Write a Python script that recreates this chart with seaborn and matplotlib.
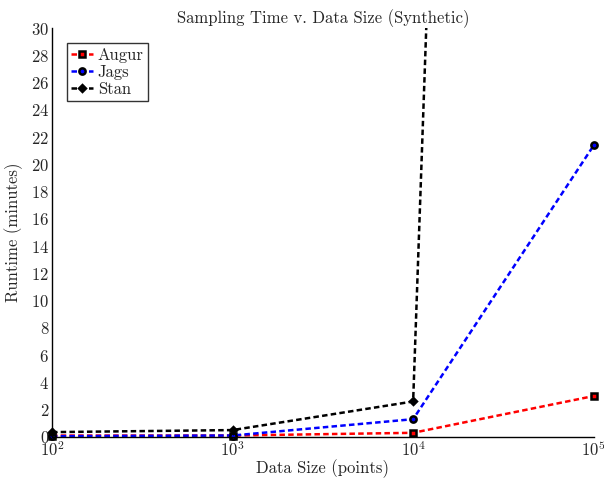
import matplotlib
matplotlib.use("Agg")
import matplotlib.pyplot as plt
import seaborn as sns
from matplotlib.transforms import Bbox, TransformedBbox

# data (runtime in minutes)
sizes = [1e2, 1e3, 1e4, 1e5]
augur = [0.1, 0.1, 0.3, 3.0]
jags = [0.05, 0.1, 1.3, 21.4]
stan = [0.35, 0.5, 2.6, 380.0]  # last point far above the axis, only the line shows

series = [("Augur", augur, "red", "s"),
          ("Jags", jags, "blue", "o"),
          ("Stan", stan, "black", "D")]

sns.set_style("white")
plt.rcParams["font.family"] = ["cmr10", "DejaVu Serif"]
plt.rcParams["mathtext.fontset"] = "cm"
plt.rcParams["axes.formatter.use_mathtext"] = True

fig = plt.figure(figsize=(6.04, 4.78), dpi=100)
ax = fig.add_axes([0.086, 0.086, 0.897, 0.855])

for name, vals, col, mk in series:
    sns.lineplot(x=sizes, y=vals, color=col, marker=mk, lw=1.8,
                 dashes=(2.2, 1.3), markersize=4.5 if mk != "D" else 3.5,
                 markeredgecolor="black", markeredgewidth=1.8, label=name, ax=ax)

# let markers sit on the spines but keep the Stan line inside the top edge
clip = TransformedBbox(Bbox([[-0.05, -0.05], [1.05, 1.0]]), ax.transAxes)
for ln in ax.lines:
    ln.set_clip_box(clip)

ax.set_xscale("log")
ax.set_xlim(1e2, 1e5)
ax.set_ylim(0, 30)
ax.set_yticks(range(0, 31, 2))
ax.set_xticks(sizes)
ax.set_xticks([10 ** 2.5, 10 ** 3.5, 10 ** 4.5], minor=True)
ax.tick_params(axis="both", which="both", direction="in", color="0.55",
               length=5, labelsize=12, pad=2)
ax.tick_params(axis="x", which="minor", labelbottom=False)

for s in ["top", "right"]:
    ax.spines[s].set_visible(False)
for s in ["left", "bottom"]:
    ax.spines[s].set_color("black")
    ax.spines[s].set_linewidth(1.0)

ax.set_xlabel("Data Size (points)", fontsize=12, labelpad=0)
ax.set_ylabel("Runtime (minutes)", fontsize=12, labelpad=6)
ax.set_title("Sampling Time v. Data Size (Synthetic)", fontsize=12, pad=4)

leg = ax.legend(loc="upper left", fontsize=12, frameon=True, fancybox=False,
                handlelength=1.3, handletextpad=0.3, borderpad=0.25,
                labelspacing=0.1, borderaxespad=0.9)
leg.get_frame().set_edgecolor("black")
leg.get_frame().set_linewidth(1.0)

fig.savefig("out.png", dpi=100)
